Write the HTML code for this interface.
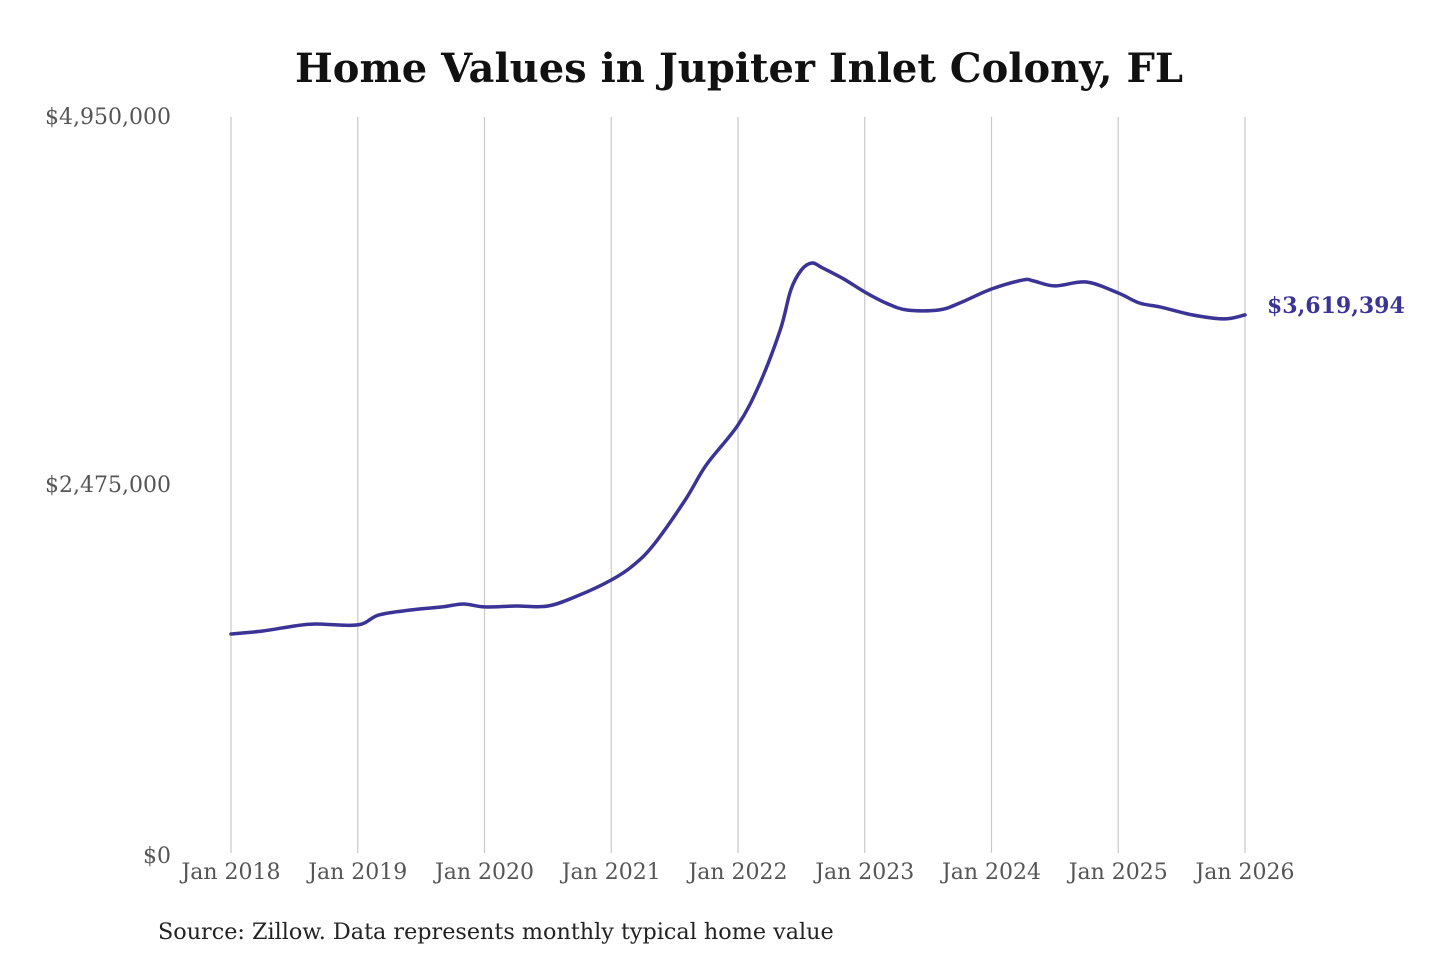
<!DOCTYPE html>
<html><head><meta charset="utf-8">
<style>
html,body{margin:0;padding:0;background:#fff;}
svg{display:block;font-family:"DejaVu Serif","Liberation Serif",serif;}
</style></head>
<body>
<svg id="chart" width="1440" height="960" viewBox="0 0 1440 960">
<text x="739" y="82" text-anchor="middle" font-size="40" font-weight="bold" fill="#111">Home Values in Jupiter Inlet Colony, FL</text>
<g id="grid"></g>
<g id="yaxis"></g>
<g id="xaxis"></g>
<path id="line" fill="none" stroke="#3b3395" stroke-width="3.5" stroke-linejoin="round" stroke-linecap="round"/>
<text id="endlabel" font-size="22" font-weight="bold" fill="#3b3395"></text>
<text x="158" y="939" font-size="22.3" fill="#222">Source: Zillow. Data represents monthly typical home value</text>
</svg>
<script>
const monthIndex = [0,3,6,8,12,14,17,20,22,24,27,30,33,36,38,40,43,45,48,50,52,53,54,55,56,58,60,62,64,67,69,72,75,76,78,81,84,86,88,91,94,96];
const values = [1.473,1.493,1.527,1.540,1.534,1.601,1.634,1.655,1.675,1.655,1.661,1.661,1.735,1.836,1.930,2.072,2.374,2.61,2.879,3.148,3.518,3.787,3.921,3.968,3.935,3.861,3.773,3.699,3.652,3.652,3.699,3.793,3.854,3.847,3.814,3.840,3.766,3.699,3.672,3.619,3.592,3.619];
const yTicks = [0,2.475,4.95];
const yTickLabels = ["$0","$2,475,000","$4,950,000"];
const xTickYears = [2018,2019,2020,2021,2022,2023,2024,2025,2026];
const endLabel = "$3,619,394";

const NS="http://www.w3.org/2000/svg";
const x0=231,x1=1245,yb=853,yt=117;
const xs=m=>x0+(x1-x0)*m/96;
const ys=v=>yb-(yb-yt)*v/4.95;
const grid=document.getElementById('grid'),xa=document.getElementById('xaxis'),ya=document.getElementById('yaxis');
xTickYears.forEach((yr,i)=>{
  const x=xs((yr-2018)*12);
  const l=document.createElementNS(NS,'line');
  
  
  l.setAttribute('x1',x);l.setAttribute('x2',x);l.setAttribute('y1',yt);l.setAttribute('y2',yb);
  l.setAttribute('stroke','#c8c8c8');l.setAttribute('stroke-width','1.2');
  grid.appendChild(l);
  const t=document.createElementNS(NS,'text');
  
  
  t.setAttribute('x',x);t.setAttribute('y',879);t.setAttribute('text-anchor','middle');
  t.setAttribute('font-size','22');t.setAttribute('fill','#555');
  t.textContent='Jan '+yr;xa.appendChild(t);
});
yTicks.forEach((v,i)=>{
  const t=document.createElementNS(NS,'text');
  
  
  t.setAttribute('x',171);t.setAttribute('y',ys(v)+(v===0?10:7));t.setAttribute('text-anchor','end');
  t.setAttribute('font-size','22');t.setAttribute('fill','#555');
  t.textContent=yTickLabels[i];ya.appendChild(t);
});
const pts=monthIndex.map((m,i)=>[xs(m),ys(values[i])]);
let d='M'+pts[0][0]+','+pts[0][1];
for(let i=1;i<pts.length;i++){
  const p0=pts[i-2]||pts[i-1],p1=pts[i-1],p2=pts[i],p3=pts[i+1]||p2;
  const c1=[p1[0]+(p2[0]-p0[0])/6,p1[1]+(p2[1]-p0[1])/6],c2=[p2[0]-(p3[0]-p1[0])/6,p2[1]-(p3[1]-p1[1])/6];
  d+=`C${c1[0]},${c1[1]} ${c2[0]},${c2[1]} ${p2[0]},${p2[1]}`;
}
document.getElementById('line').setAttribute('d',d);
const el=document.getElementById('endlabel');
const last=pts[pts.length-1];
el.setAttribute('x',last[0]+22);el.setAttribute('y',last[1]-2);
el.textContent=endLabel;
</script>
</body></html>
